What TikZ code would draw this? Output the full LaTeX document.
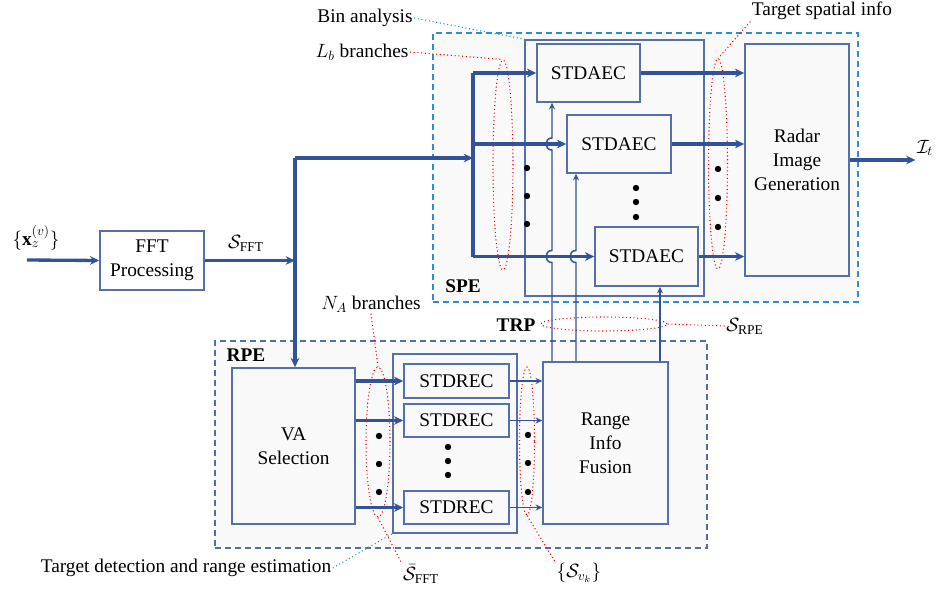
\documentclass[tikz,border=0pt]{standalone}
\usepackage{amsmath}
\usepackage{amssymb}
\usepackage{fontspec}
\setmainfont{Liberation Serif}
\usetikzlibrary{arrows.meta}
\usetikzlibrary{shapes.geometric}
\usetikzlibrary{calc}
\definecolor{lineblue}{RGB}{50,84,150}
\definecolor{boxblue}{RGB}{84,112,170}
\definecolor{speblue}{RGB}{45,140,210}
\definecolor{rpeblue}{RGB}{80,110,170}
\definecolor{panelgray}{RGB}{249,249,249}
\newcommand\pxu{0.75pt}

\begin{document}
\begin{tikzpicture}[x=0.75pt, y=-0.75pt,
	font=\fontsize{14.5}{18}\selectfont,
	blk/.style={draw=boxblue, line width=1.1pt, inner sep=0pt, align=center},
	panel/.style={fill=panelgray, dash pattern=on 4.5pt off 3pt, line width=0.9pt, inner sep=0pt},
	lab/.style={inner sep=1pt},
	thickarr/.style={draw=lineblue, line width=2.5pt, -{Stealth[length=7pt,width=6.5pt]}},
	thickline/.style={draw=lineblue, line width=2.5pt},
	thinarr/.style={draw=lineblue, line width=1.1pt, -{Stealth[length=5pt,width=4.5pt]}},
	redell/.style={ellipse, draw=red, dotted, line width=0.8pt, inner sep=0pt},
	redlead/.style={draw=red, dotted, line width=0.8pt},
	bluelead/.style={draw=speblue, dotted, line width=0.8pt}]
	\useasboundingbox (0,0) rectangle (936,592);

	% panels
	\node[panel, draw=speblue, minimum width=425*\pxu, minimum height=269*\pxu] (spe) at (645.5,167.5) {};
	\node[panel, draw=rpeblue, minimum width=492*\pxu, minimum height=207*\pxu] (rpe) at (461,444.5) {};
	\node[lab, font=\fontsize{14.5}{18}\selectfont\bfseries] (spelab) at (463,286) {SPE};
	\node[lab, font=\fontsize{14.5}{18}\selectfont\bfseries] (rpelab) at (246,355) {RPE};
	\node[lab, font=\fontsize{14.5}{18}\selectfont\bfseries] (trplab) at (516,325) {TRP};

	% blocks
	\node[blk, minimum width=104*\pxu, minimum height=59*\pxu] (fft) at (152,260.5) {FFT\\Processing};
	\node[blk, minimum width=179*\pxu, minimum height=256*\pxu] (bin) at (614.5,168) {};
	\node[blk, minimum width=103*\pxu, minimum height=58*\pxu] (aec1) at (588.5,73) {STDAEC};
	\node[blk, minimum width=104*\pxu, minimum height=58*\pxu] (aec2) at (619,144) {STDAEC};
	\node[blk, minimum width=103*\pxu, minimum height=59*\pxu] (aec3) at (646.5,256.5) {STDAEC};
	\node[blk, minimum width=104*\pxu, minimum height=232*\pxu] (rig) at (797,160) {Radar\\Image\\Generation};
	\node[blk, minimum width=123*\pxu, minimum height=156*\pxu] (vas) at (293.5,446) {VA\\Selection};
	\node[blk, minimum width=124*\pxu, minimum height=179*\pxu] (recgrp) at (455,443.5) {};
	\node[blk, minimum width=105*\pxu, minimum height=34*\pxu] (rec1) at (456.5,381) {STDREC};
	\node[blk, minimum width=105*\pxu, minimum height=33*\pxu] (rec2) at (456.5,420.5) {STDREC};
	\node[blk, minimum width=105*\pxu, minimum height=33*\pxu] (rec3) at (456.5,507.5) {STDREC};
	\node[blk, minimum width=125*\pxu, minimum height=162*\pxu] (rif) at (605.5,443) {Range\\Info\\Fusion};

	% signal labels
	\node[lab] (xin) at (36,238) {$\{\mathbf{x}_z^{(v)}\}$};
	\node[lab] (sfft) at (246,243) {$\mathcal{S}_{\mathrm{FFT}}$};
	\node[lab] (itout) at (925,148) {$\mathcal{I}_t$};
	\node[lab] (srpe) at (745,326) {$\mathcal{S}_{\mathrm{RPE}}$};
	\node[lab] (sbar) at (421,574) {$\bar{\mathcal{S}}_{\mathrm{FFT}}$};
	\node[lab] (svk) at (579,573) {$\{\mathcal{S}_{v_k}\}$};

	% annotations
	\node[lab] (binlab) at (365,18) {Bin analysis};
	\node[lab] (lblab) at (362,52) {$L_b$ branches};
	\node[lab] (tsilab) at (822,11) {Target spatial info};
	\node[lab] (nalab) at (371,304) {$N_A$ branches};
	\node[lab] (tdrelab) at (186,568) {Target detection and range estimation};
	\node[redell, minimum width=20*\pxu, minimum height=210*\pxu] (lbell) at (503,165) {};
	\node[redell, minimum width=19*\pxu, minimum height=210*\pxu] (tsiell) at (718,164) {};
	\node[redell, minimum width=24*\pxu, minimum height=150*\pxu] (naell) at (378,442) {};
	\node[redell, minimum width=15*\pxu, minimum height=148*\pxu] (svell) at (527,441) {};
	\node[redell, minimum width=126*\pxu, minimum height=14*\pxu] (trpell) at (604,324) {};
	\draw[bluelead] (binlab.east) -- (bin.north west);
	\draw[redlead] (lblab.east) -- (lbell.north);
	\draw[redlead] (tsilab.south west) -- (tsiell.north);
	\draw[redlead] (nalab.south) -- (naell.north);
	\draw[redlead] (naell.south) -- (sbar.north west);
	\draw[redlead] (svell.south) -- (svk.north west);
	\draw[redlead] (trpell.east) -- (srpe.west);
	\draw[bluelead] (tdrelab.east) -- (recgrp.south west);

	% input and FFT output
	\coordinate (xstart) at (27,260);
	\coordinate (sp) at (295,158);
	\coordinate (bus) at (473,0);
	\draw[thickarr] (xstart) -- (fft.west);
	\draw[thickarr] (fft.east) -- (fft.east -| sp);
	\draw[thickarr] (sp) -- (vas.north -| sp);
	\draw[thickarr] (sp) -- (sp -| bus);

	% SPE branches
	\draw[thickline] (aec1.west -| bus) -- (aec3.west -| bus);
	\foreach \b in {aec1,aec2,aec3}{
		\draw[thickarr] (\b.west -| bus) -- (\b.west);
		\draw[thickarr] (\b.east) -- (\b.east -| rig.west);
	}
	\draw[thickarr] (rig.east) -- (rig.east -| itout.west);

	% RPE branches
	\foreach \r in {rec1,rec2,rec3}{
		\draw[thickarr] (vas.east |- \r.west) -- (\r.west);
		\draw[thinarr] (\r.east) -- (\r.east -| rif.west);
	}

	% range info back to SPE
	\coordinate (u1) at (552,0);
	\coordinate (u2) at (576,0);
	\coordinate (u3) at (660,0);
	\draw[thinarr] (rif.north -| u1)
		-- ($(aec3.west -| u1)+(0,6)$) .. controls +(-8,0) and +(-8,0) .. ($(aec3.west -| u1)+(0,-6)$)
		-- ($(aec2.west -| u1)+(0,6)$) .. controls +(-8,0) and +(-8,0) .. ($(aec2.west -| u1)+(0,-6)$)
		-- (aec1.south -| u1);
	\draw[thinarr] (rif.north -| u2)
		-- ($(aec3.west -| u2)+(0,6)$) .. controls +(-8,0) and +(-8,0) .. ($(aec3.west -| u2)+(0,-6)$)
		-- (aec2.south -| u2);
	\draw[thinarr] (rif.north -| u3) -- (aec3.south -| u3);

	% dots
	\foreach \y in {168,196,224} \fill (527,\y) circle[radius=3.2];
	\foreach \y in {188,202,217} \fill (636,\y) circle[radius=3.2];
	\foreach \y in {169,198,227} \fill (718,\y) circle[radius=3.2];
	\foreach \y in {436,464,492} \fill (379,\y) circle[radius=3.2];
	\foreach \y in {447,461,475} \fill (448,\y) circle[radius=3.2];
	\foreach \y in {435,463,492} \fill (528,\y) circle[radius=3.2];
\end{tikzpicture}
\end{document}
